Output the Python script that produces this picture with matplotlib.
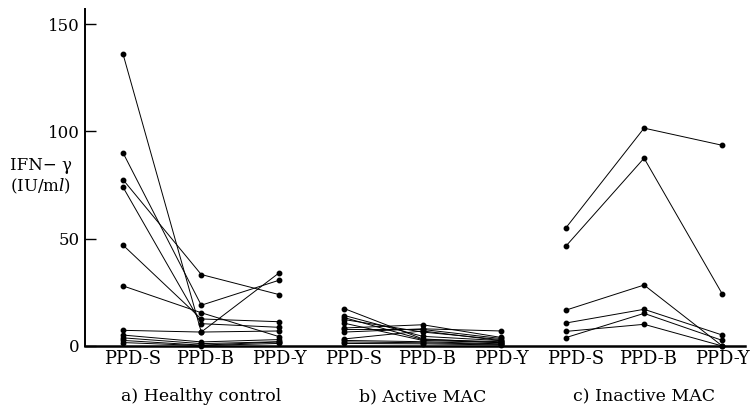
import matplotlib
matplotlib.use("Agg")
import matplotlib.pyplot as plt

# IFN-gamma (IU/ml) per subject for PPD-S, PPD-B, PPD-Y
healthy_s = [136, 90, 77.5, 74, 47, 28, 7.3, 5.1, 3.8, 2.6, 1.6]
healthy_b = [6.5, 19, 33.3, 10.4, 12.6, 15.5, 6.5, 1.9, 1.1, 0.4, 0.2]
healthy_y = [34.2, 30.7, 23.9, 8.7, 11.3, 4.3, 7.0, 3.0, 2.0, 1.9, 1.2]

active_s = [17.4, 14.2, 13.2, 12.3, 10.6, 8.4, 7.7, 6.5, 3.3, 2.6, 1.9, 1.2]
active_b = [3.3, 4.5, 3.0, 6.5, 2.6, 9.9, 7.7, 8.0, 7.0, 2.0, 1.5, 1.0]
active_y = [1.5, 2.5, 2.0, 3.0, 1.6, 4.0, 3.5, 7.0, 2.5, 1.0, 0.8, 0.5]

inactive_s = [55, 46.5, 16.7, 10.7, 3.9, 6.8]
inactive_b = [101.5, 87.5, 28.4, 17.1, 15.2, 10.1]
inactive_y = [93.5, 24.2, 0, 5.1, 2.6, 0]

antigens = ["PPD-S", "PPD-B", "PPD-Y"]
group_names = ["a) Healthy control", "b) Active MAC", "c) Inactive MAC"]
y_ticks = [0, 50, 100, 150]

plt.rcParams["font.family"] = ["DejaVu Serif"]
plt.rcParams["mathtext.fontset"] = "dejavuserif"

GROUP_STEP = 2.83
# labels sit a little tighter than the points in the original
LABEL_SHIFT = [0.12, 0.05, 0.0]


def plot_group(ax, g, s_vals, b_vals, y_vals):
    """Draws one line per subject across the three antigens."""
    xs = [g * GROUP_STEP + i for i in range(3)]
    for s, b, y in zip(s_vals, b_vals, y_vals):
        ax.plot(xs, [s, b, y], color="black", lw=0.7, marker="o", ms=3.2,
                clip_on=False, zorder=3)


fig = plt.figure(figsize=(7.5, 4.09), dpi=100)
ax = fig.add_axes([85 / 750, 63 / 409, 660 / 750, 337 / 409])

plot_group(ax, 0, healthy_s, healthy_b, healthy_y)
plot_group(ax, 1, active_s, active_b, active_y)
plot_group(ax, 2, inactive_s, inactive_b, inactive_y)

ax.set_xlim(-0.486, 7.95)
ax.set_ylim(0, 157)

ax.spines["top"].set_visible(False)
ax.spines["right"].set_visible(False)
ax.spines["left"].set_linewidth(1.4)
ax.spines["bottom"].set_linewidth(1.8)

ax.set_yticks(y_ticks)
ax.tick_params(axis="y", direction="in", length=8, width=1, pad=4, labelsize=12)

ticks = [g * GROUP_STEP + i + LABEL_SHIFT[i] for g in range(3) for i in range(3)]
ax.set_xticks(ticks)
ax.set_xticklabels(antigens * 3)
ax.tick_params(axis="x", length=0, pad=3, labelsize=13)

fig.text(10 / 750, 1 - 165 / 409, "IFN\u2212 \u03b3", ha="left", va="center", fontsize=12)
fig.text(10 / 750, 1 - 186 / 409, "(IU/m$l$)", ha="left", va="center", fontsize=12)

for g, name in enumerate(group_names):
    xc = g * GROUP_STEP + 1
    ax.text(xc, -0.15, name, transform=ax.get_xaxis_transform(),
            ha="center", va="center", fontsize=12.5)

fig.savefig("out.png", dpi=100)
